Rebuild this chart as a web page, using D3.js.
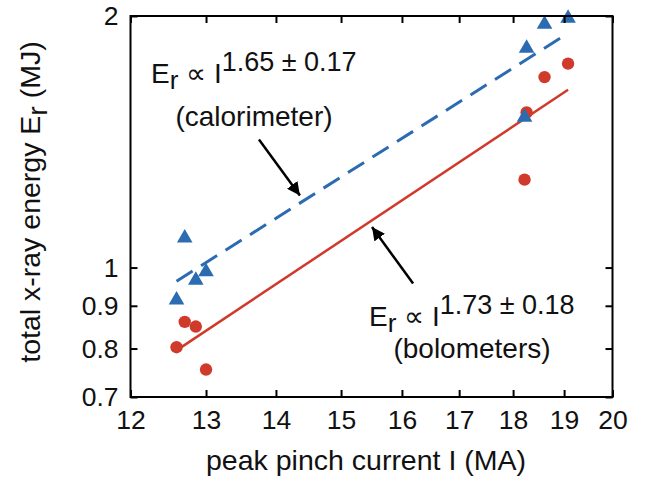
<!DOCTYPE html>
<html><head><meta charset="utf-8">
<script src="https://cdn.jsdelivr.net/npm/d3@7"></script>
<style>body{margin:0;background:#fff}svg text{font-family:"Liberation Sans",Arial,Helvetica,sans-serif;fill:#111}</style>
</head><body>
<svg id="c" width="648" height="478"></svg>
<script>
// data
const calI = [12.60, 12.71, 12.86, 13.00, 18.22, 18.26, 18.61, 19.08];
const calE = [0.917, 1.088, 0.968, 0.991, 1.517, 1.835, 1.961, 1.993];
const bolI = [12.60, 12.71, 12.86, 13.00, 18.22, 18.26, 18.61, 19.08];
const bolE = [0.803, 0.861, 0.850, 0.755, 1.274, 1.533, 1.690, 1.754];
const calFitI = [12.6, 19.08];
const calFitE = [0.963, 1.9075];
const bolFitI = [12.6, 19.08];
const bolFitE = [0.796, 1.632];
const xTicks = [12, 13, 14, 15, 16, 17, 18, 19, 20];
const yTicks = [0.7, 0.8, 0.9, 1, 2];
const calArrowI = [13.75, 14.36];
const calArrowE = [1.423, 1.220];
const bolArrowI = [16.19, 15.50];
const bolArrowE = [0.957, 1.118];

const blue = "#2b6bb2", red = "#d03a2a";
const L = 130.5, R = 612.5, T = 16, B = 397;
const svg = d3.select("#c");
const x = d3.scaleLog().domain([12, 20]).range([L, R]);
const y = d3.scaleLog().domain([0.7, 2]).range([B, T]);

const defs = svg.append("defs");
defs.append("marker").attr("id", "ah").attr("viewBox", "0 0 10 10")
  .attr("refX", 10).attr("refY", 5).attr("markerWidth", 13).attr("markerHeight", 13)
  .attr("markerUnits", "userSpaceOnUse").attr("orient", "auto")
  .append("path").attr("d", "M0,0 L10,5 L0,10 Z").attr("fill", "#000");

// fit lines
const line = d3.line().x(d => x(d[0])).y(d => y(d[1]));
svg.append("path").datum(calFitI.map((v, i) => [v, calFitE[i]]))
  .attr("d", line).attr("fill", "none").attr("stroke", blue).attr("stroke-width", 3)
  .attr("stroke-dasharray", "19,10");
svg.append("path").datum(bolFitI.map((v, i) => [v, bolFitE[i]]))
  .attr("d", line).attr("fill", "none").attr("stroke", red).attr("stroke-width", 2.5);

// points
svg.append("g").selectAll("circle").data(bolI.map((v, i) => [v, bolE[i]])).join("circle")
  .attr("cx", d => x(d[0])).attr("cy", d => y(d[1])).attr("r", 6.2).attr("fill", red);
const tri = d3.symbol().type(d3.symbolTriangle).size(105);
svg.append("g").selectAll("path").data(calI.map((v, i) => [v, calE[i]])).join("path")
  .attr("d", tri).attr("transform", d => `translate(${x(d[0])},${y(d[1]) + 1})`).attr("fill", blue);

// frame
svg.append("rect").attr("x", L).attr("y", T).attr("width", R - L).attr("height", B - T)
  .attr("fill", "none").attr("stroke", "#000").attr("stroke-width", 2);

const fmtY = d => String(d);
const ax = (g, a) => { g.call(a); g.select(".domain").remove();
  g.selectAll(".tick line").attr("stroke", "#000").attr("stroke-width", 2); };
svg.append("g").attr("transform", `translate(0,${B})`)
  .call(g => ax(g, d3.axisBottom(x).tickValues(xTicks).tickFormat(d3.format("d")).tickSize(-7).tickPadding(13)))
  .selectAll("text").attr("font-size", 26.5).attr("fill", "#111");
svg.append("g").attr("transform", `translate(0,${T})`)
  .call(g => ax(g, d3.axisTop(x).tickValues(xTicks).tickFormat("").tickSize(-7)));
svg.append("g").attr("transform", `translate(${L},0)`)
  .call(g => ax(g, d3.axisLeft(y).tickValues(yTicks).tickFormat(fmtY).tickSize(-7).tickPadding(12)))
  .selectAll("text").attr("font-size", 26.5).attr("fill", "#111");
svg.append("g").attr("transform", `translate(${R},0)`)
  .call(g => ax(g, d3.axisRight(y).tickValues(yTicks).tickFormat("").tickSize(-7)));

// axis titles
svg.append("text").attr("x", 366).attr("y", 470).attr("text-anchor", "middle")
  .attr("font-size", 28.5).text("peak pinch current I (MA)");
const yl = svg.append("text").attr("transform", "translate(40,202) rotate(-90)")
  .attr("text-anchor", "middle").attr("font-size", 28.5);
yl.append("tspan").text("total x-ray energy E");
yl.append("tspan").attr("dy", 7).text("r");
yl.append("tspan").attr("dy", -7).text(" (MJ)");

// annotations
function law(px, py, sup) {
  const t = svg.append("text").attr("x", px).attr("y", py).attr("font-size", 28);
  t.append("tspan").text("E");
  t.append("tspan").attr("dy", 6).attr("font-size", 26).text("r");
  t.append("tspan").attr("dy", -6).text(" \u221D I");
  t.append("tspan").attr("dy", -12).attr("font-size", 27).text(sup);
}
law(151, 83, "1.65 \u00B1 0.17");
svg.append("text").attr("x", 254).attr("y", 126).attr("text-anchor", "middle")
  .attr("font-size", 28).text("(calorimeter)");
law(369, 326, "1.73 \u00B1 0.18");
svg.append("text").attr("x", 472).attr("y", 358).attr("text-anchor", "middle")
  .attr("font-size", 28).text("(bolometers)");

svg.append("line").attr("x1", x(calArrowI[0])).attr("y1", y(calArrowE[0]))
  .attr("x2", x(calArrowI[1])).attr("y2", y(calArrowE[1]))
  .attr("stroke", "#000").attr("stroke-width", 2.5).attr("marker-end", "url(#ah)");
svg.append("line").attr("x1", x(bolArrowI[0])).attr("y1", y(bolArrowE[0]))
  .attr("x2", x(bolArrowI[1])).attr("y2", y(bolArrowE[1]))
  .attr("stroke", "#000").attr("stroke-width", 2.5).attr("marker-end", "url(#ah)");
</script>
</body></html>
